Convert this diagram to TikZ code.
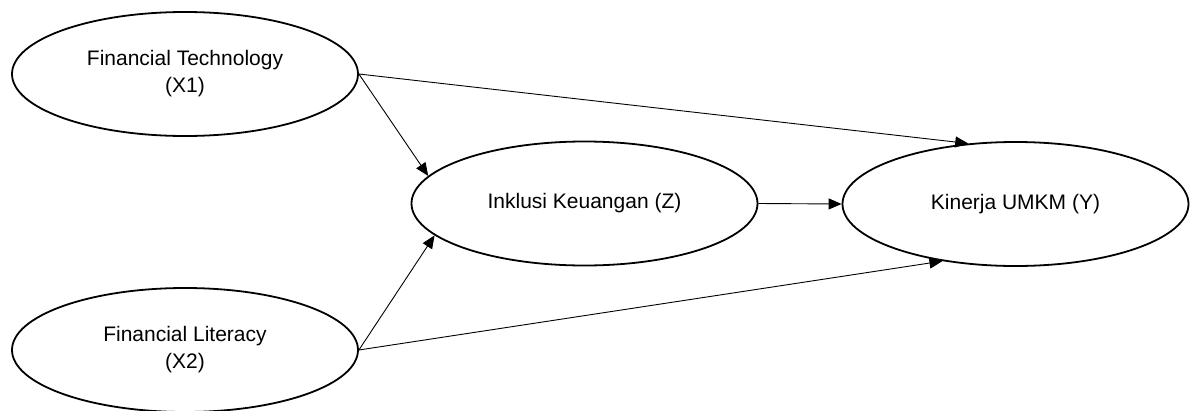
\documentclass[tikz,border=0pt]{standalone}
\usepackage{fontspec}
\setmainfont{Liberation Sans}
\usetikzlibrary{shapes.geometric,arrows.meta}
\begin{document}
\begin{tikzpicture}[x=1pt,y=-1pt,
  var/.style={ellipse,draw,line width=1.8pt,minimum width=346pt,minimum height=124pt,inner sep=0pt,
    align=center,font=\fontsize{21}{27}\selectfont},
  link/.style={line width=0.9pt,-{Triangle[length=13pt,width=11pt]}}]
\useasboundingbox (0,0) rectangle (1192,410);
\node[var] (X1) at (185,74) {Financial Technology\\(X1)};
\node[var] (X2) at (185,350) {Financial Literacy\\(X2)};
\node[var] (Z) at (584.5,203.5) {Inklusi Keuangan (Z)};
\node[var] (Y) at (1015.5,204) {Kinerja UMKM (Y)};
\draw[link] (X1.east) -- (Y.128);
\draw[link] (X1.east) -- (Z.170);
\draw[link] (X2.east) -- (Z.192);
\draw[link] (X2.east) -- (Y.218);
\draw[link] (Z.east) -- (Y.west);
\end{tikzpicture}
\end{document}
